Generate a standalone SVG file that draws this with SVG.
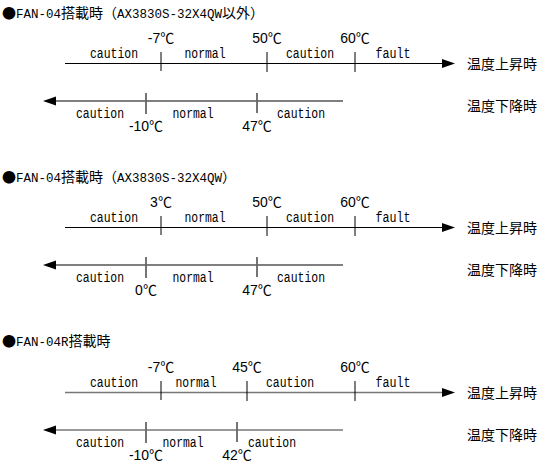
<svg xmlns="http://www.w3.org/2000/svg" width="541" height="467" viewBox="0 0 541 467">
<defs>
<marker id="ah" markerUnits="userSpaceOnUse" markerWidth="14" markerHeight="10" refX="0" refY="4.5" orient="auto">
<path d="M0,0 L13,4.5 L0,9 Z" fill="#000"/>
</marker>
</defs>
<style>
.ttl{font-family:"Noto Sans CJK JP",sans-serif;font-size:14px;fill:#000}
.m{font-family:"Liberation Mono","Noto Sans CJK JP",monospace;font-size:12.5px}
.lbl{font-family:"Liberation Mono","Noto Sans CJK JP",monospace;font-size:14px;fill:#000;text-anchor:middle}
.tmp{font-family:"Liberation Sans","Noto Sans CJK JP",sans-serif;font-size:14px;fill:#000;text-anchor:middle}
.jp{font-family:"Noto Sans CJK JP",sans-serif;font-size:14px;fill:#000}
.ln{stroke:#000;stroke-width:1.2;fill:none}
.ln3{stroke:#777;stroke-width:1.6;fill:none}
.tk{stroke:#000;stroke-width:1;fill:none}
.tkl{stroke:#666;stroke-width:1.8;fill:none}
</style>

<g id="section1">
<text class="ttl" x="2" y="18">●<tspan class="m">FAN-04</tspan>搭載時（<tspan class="m">AX3830S-32X4QW</tspan>以外）</text>
<g id="s1-rise">
<text class="tmp" x="161" y="43">-7℃</text>
<text class="tmp" x="267" y="43">50℃</text>
<text class="tmp" x="355" y="43">60℃</text>
<text class="lbl" x="114" y="58" textLength="48" lengthAdjust="spacingAndGlyphs">caution</text>
<text class="lbl" x="205" y="58" textLength="41" lengthAdjust="spacingAndGlyphs">normal</text>
<text class="lbl" x="310" y="58" textLength="48" lengthAdjust="spacingAndGlyphs">caution</text>
<text class="lbl" x="393" y="58" textLength="35" lengthAdjust="spacingAndGlyphs">fault</text>
<text class="jp" x="467" y="69">温度上昇時</text>
</g>
<g id="s1-fall">
<text class="lbl" x="100" y="118" textLength="48" lengthAdjust="spacingAndGlyphs">caution</text>
<text class="lbl" x="193" y="118" textLength="41" lengthAdjust="spacingAndGlyphs">normal</text>
<text class="lbl" x="301" y="118" textLength="48" lengthAdjust="spacingAndGlyphs">caution</text>
<text class="tmp" x="146" y="131">-10℃</text>
<text class="tmp" x="257" y="131">47℃</text>
<text class="jp" x="467" y="111">温度下降時</text>
</g>
</g>

<g id="section2">
<text class="ttl" x="2" y="182">●<tspan class="m">FAN-04</tspan>搭載時（<tspan class="m">AX3830S-32X4QW</tspan>）</text>
<g id="s2-rise">
<text class="tmp" x="161" y="207">3℃</text>
<text class="tmp" x="267" y="207">50℃</text>
<text class="tmp" x="355" y="207">60℃</text>
<text class="lbl" x="114" y="222" textLength="48" lengthAdjust="spacingAndGlyphs">caution</text>
<text class="lbl" x="205" y="222" textLength="41" lengthAdjust="spacingAndGlyphs">normal</text>
<text class="lbl" x="310" y="222" textLength="48" lengthAdjust="spacingAndGlyphs">caution</text>
<text class="lbl" x="393" y="222" textLength="35" lengthAdjust="spacingAndGlyphs">fault</text>
<text class="jp" x="467" y="233">温度上昇時</text>
</g>
<g id="s2-fall">
<text class="lbl" x="100" y="282" textLength="48" lengthAdjust="spacingAndGlyphs">caution</text>
<text class="lbl" x="193" y="282" textLength="41" lengthAdjust="spacingAndGlyphs">normal</text>
<text class="lbl" x="301" y="282" textLength="48" lengthAdjust="spacingAndGlyphs">caution</text>
<text class="tmp" x="146" y="295">0℃</text>
<text class="tmp" x="257" y="295">47℃</text>
<text class="jp" x="467" y="275">温度下降時</text>
</g>
</g>

<g id="section3">
<text class="ttl" x="2" y="346">●<tspan class="m">FAN-04R</tspan>搭載時</text>
<g id="s3-rise">
<text class="tmp" x="161" y="372">-7℃</text>
<text class="tmp" x="247" y="372">45℃</text>
<text class="tmp" x="355" y="372">60℃</text>
<text class="lbl" x="114" y="387" textLength="48" lengthAdjust="spacingAndGlyphs">caution</text>
<text class="lbl" x="196" y="387" textLength="41" lengthAdjust="spacingAndGlyphs">normal</text>
<text class="lbl" x="290" y="387" textLength="48" lengthAdjust="spacingAndGlyphs">caution</text>
<text class="lbl" x="393" y="387" textLength="35" lengthAdjust="spacingAndGlyphs">fault</text>
<text class="jp" x="467" y="398">温度上昇時</text>
</g>
<g id="s3-fall">
<text class="lbl" x="100" y="447" textLength="48" lengthAdjust="spacingAndGlyphs">caution</text>
<text class="lbl" x="183" y="447" textLength="41" lengthAdjust="spacingAndGlyphs">normal</text>
<text class="lbl" x="272" y="447" textLength="48" lengthAdjust="spacingAndGlyphs">caution</text>
<text class="tmp" x="146" y="460">-10℃</text>
<text class="tmp" x="237" y="460">42℃</text>
<text class="jp" x="467" y="440">温度下降時</text>
</g>
</g>

<g id="connectors">
<line class="ln" x1="65" y1="63.5" x2="442" y2="63.5" marker-end="url(#ah)"/>
<line class="tk" x1="161" y1="52" x2="161" y2="71"/>
<line class="tk" x1="267" y1="52" x2="267" y2="72"/>
<line class="tk" x1="355" y1="52" x2="355" y2="72"/>
<line class="ln" x1="343" y1="101" x2="56" y2="101" marker-end="url(#ah)"/>
<line class="tkl" x1="146" y1="93" x2="146" y2="114"/>
<line class="tkl" x1="257" y1="93" x2="257" y2="113"/>

<line class="ln" x1="65" y1="227.5" x2="442" y2="227.5" marker-end="url(#ah)"/>
<line class="tk" x1="161" y1="216" x2="161" y2="235"/>
<line class="tk" x1="267" y1="216" x2="267" y2="236"/>
<line class="tk" x1="355" y1="216" x2="355" y2="236"/>
<line class="ln" x1="343" y1="265" x2="56" y2="265" marker-end="url(#ah)"/>
<line class="tkl" x1="146" y1="257" x2="146" y2="278"/>
<line class="tkl" x1="257" y1="257" x2="257" y2="277"/>

<line class="ln3" x1="65" y1="392.5" x2="442" y2="392.5" marker-end="url(#ah)"/>
<line class="tk" x1="161" y1="381" x2="161" y2="400"/>
<line class="tk" x1="247" y1="381" x2="247" y2="401"/>
<line class="tk" x1="355" y1="381" x2="355" y2="401"/>
<line class="ln3" x1="343" y1="430" x2="56" y2="430" marker-end="url(#ah)"/>
<line class="tkl" x1="146" y1="422" x2="146" y2="443"/>
<line class="tkl" x1="237" y1="422" x2="237" y2="442"/>
</g>
</svg>
